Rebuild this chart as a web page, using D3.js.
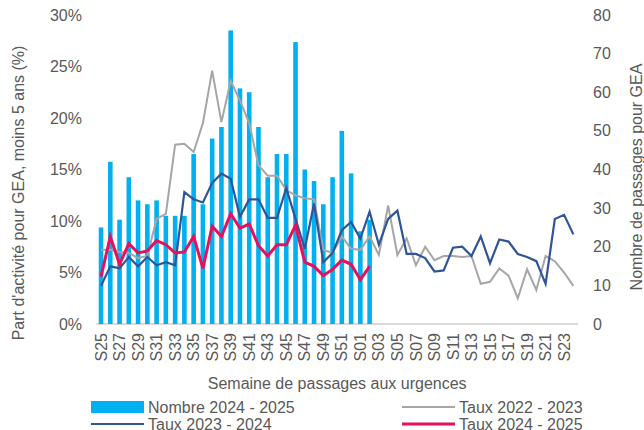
<!DOCTYPE html>
<html>
<head>
<meta charset="utf-8">
<script src="https://cdn.jsdelivr.net/npm/d3@7"></script>
<style>
    body { margin: 0; background: #fff; }
    svg text { font-family: "Liberation Sans", Arial, sans-serif; fill: #595959; }
</style>
</head>
<body>
<div id="chart"></div>
<script>
// weeks S25 .. S52, S01 .. S24
var weeks = ["S25", "S26", "S27", "S28", "S29", "S30", "S31", "S32", "S33", "S34", "S35", "S36", "S37", "S38",
    "S39", "S40", "S41", "S42", "S43", "S44", "S45", "S46", "S47", "S48", "S49", "S50", "S51", "S52",
    "S01", "S02", "S03", "S04", "S05", "S06", "S07", "S08", "S09", "S10", "S11", "S12", "S13", "S14",
    "S15", "S16", "S17", "S18", "S19", "S20", "S21", "S22", "S23", "S24"];

// bars, right axis
var nombre2425 = [25, 42, 27, 38, 32, 31, 32, 28, 28, 28, 44, 31, 48, 51, 76, 61, 60, 51, 38, 44,
    44, 73, 40, 37, 31, 38, 50, 39, 24, 27];

// lines, left axis (%)
var taux2223 = [7.2, 7.2, 7.0, 6.9, 6.4, 6.6, 10.2, 10.7, 17.4, 17.5, 16.7, 19.5, 24.6, 19.6, 23.6, 21.7,
    19.5, 15.4, 14.4, 14.4, 13.0, 12.5, 12.2, 12.1, 7.2, 6.9, 8.5, 7.3, 7.2, 8.5, 6.7, 11.5, 6.7, 8.3,
    5.7, 7.5, 6.2, 6.6, 6.6, 6.5, 6.6, 3.9, 4.1, 5.4, 4.7, 2.5, 5.3, 3.3, 6.6, 6.1, 5.0, 3.7];
var taux2324 = [3.7, 5.6, 5.4, 6.5, 5.6, 6.5, 5.7, 6.0, 5.7, 12.8, 12.1, 11.8, 13.7, 14.6, 14.1, 10.4,
    12.1, 12.1, 10.3, 10.3, 13.2, 10.2, 7.3, 11.7, 6.0, 6.9, 9.1, 9.9, 8.3, 10.9, 7.7, 10.2, 11.0, 6.8,
    6.8, 6.4, 5.1, 5.2, 7.4, 7.5, 6.6, 8.5, 5.9, 8.2, 8.0, 6.8, 6.5, 6.1, 3.9, 10.2, 10.6, 8.7];
var taux2425 = [4.6, 8.5, 5.8, 7.8, 6.9, 7.1, 8.1, 7.7, 6.9, 7.0, 8.5, 5.4, 9.5, 8.5, 10.7, 9.3, 9.7,
    7.6, 6.6, 7.7, 7.7, 9.6, 6.0, 5.6, 4.7, 5.3, 6.2, 5.8, 4.3, 5.6];

var leftTicks = [0, 5, 10, 15, 20, 25, 30];
var rightTicks = [0, 10, 20, 30, 40, 50, 60, 70, 80];

var legendItems = [
    { name: "Nombre 2024 - 2025", type: "bar", color: "#00B0F0" },
    { name: "Taux 2022 - 2023", type: "line", color: "#A6A6A6" },
    { name: "Taux 2023 - 2024", type: "line", color: "#2F5597" },
    { name: "Taux 2024 - 2025", type: "line", color: "#E8105A" }
];

function init() {
    var w = 644;
    var h = 430;
    var left = 96.4, right = 578, top = 15, bottom = 324;
    var fs = "16px";

    var svg = d3.select("#chart").append("svg")
        .attr("width", w)
        .attr("height", h);

    var xScale = d3.scaleBand()
        .domain(weeks)
        .range([left, right])
        .padding(0);

    var yLeft = d3.scaleLinear().domain([0, 30]).range([bottom, top]);
    var yRight = d3.scaleLinear().domain([0, 80]).range([bottom, top]);

    var cx = function (i) { return xScale(weeks[i]) + xScale.bandwidth() / 2; };

    // baseline
    svg.append("line")
        .attr("x1", left).attr("x2", right)
        .attr("y1", bottom).attr("y2", bottom)
        .attr("stroke", "#D9D9D9")
        .attr("stroke-width", 2);

    // left ticks
    svg.append("g").selectAll("text")
        .data(leftTicks)
        .enter()
        .append("text")
        .attr("x", 82)
        .attr("y", function (d) { return yLeft(d); })
        .attr("dy", "0.35em")
        .attr("text-anchor", "end")
        .style("font-size", fs)
        .text(function (d) { return d + "%"; });

    // right ticks
    svg.append("g").selectAll("text")
        .data(rightTicks)
        .enter()
        .append("text")
        .attr("x", 593)
        .attr("y", function (d) { return yRight(d); })
        .attr("dy", "0.35em")
        .attr("text-anchor", "start")
        .style("font-size", fs)
        .text(function (d) { return d; });

    // x labels, every other week
    svg.append("g").selectAll("text")
        .data(weeks.filter(function (d, i) { return i % 2 === 0; }))
        .enter()
        .append("text")
        .attr("transform", function (d) {
            return "translate(" + (xScale(d) + xScale.bandwidth() / 2) + "," + 333 + ") rotate(-90)";
        })
        .attr("dy", "0.35em")
        .attr("text-anchor", "end")
        .style("font-size", fs)
        .text(function (d) { return d; });

    // axis titles
    svg.append("text")
        .attr("x", (left + right) / 2)
        .attr("y", 389)
        .attr("text-anchor", "middle")
        .style("font-size", fs)
        .text("Semaine de passages aux urgences");

    svg.append("text")
        .attr("transform", "translate(24,193) rotate(-90)")
        .attr("text-anchor", "middle")
        .style("font-size", fs)
        .text("Part d'activité pour GEA, moins 5 ans (%)");

    svg.append("text")
        .attr("transform", "translate(642,177) rotate(-90)")
        .attr("text-anchor", "middle")
        .style("font-size", fs)
        .text("Nombre de passages pour GEA");

    // bars
    var barW = 4.6;
    svg.append("g").selectAll("rect")
        .data(nombre2425)
        .enter()
        .append("rect")
        .attr("x", function (d, i) { return cx(i) - barW / 2; })
        .attr("y", function (d) { return yRight(d); })
        .attr("width", barW)
        .attr("height", function (d) { return bottom - yRight(d); })
        .attr("fill", "#00B0F0");

    var line = d3.line()
        .x(function (d, i) { return cx(i); })
        .y(function (d) { return yLeft(d); });

    svg.append("path")
        .datum(taux2223)
        .attr("d", line)
        .attr("fill", "none")
        .attr("stroke", "#A6A6A6")
        .attr("stroke-width", 2);

    svg.append("path")
        .datum(taux2324)
        .attr("d", line)
        .attr("fill", "none")
        .attr("stroke", "#2F5597")
        .attr("stroke-width", 2.2);

    svg.append("path")
        .datum(taux2425)
        .attr("d", line)
        .attr("fill", "none")
        .attr("stroke", "#E8105A")
        .attr("stroke-width", 3);

    // legend
    var legendPos = [[91, 407], [402, 407], [91, 424], [402, 424]];
    var lg = svg.append("g").selectAll("g")
        .data(legendItems)
        .enter()
        .append("g")
        .attr("transform", function (d, i) {
            return "translate(" + legendPos[i][0] + "," + legendPos[i][1] + ")";
        });

    lg.filter(function (d) { return d.type === "bar"; })
        .append("rect")
        .attr("x", 0).attr("y", -6)
        .attr("width", 53).attr("height", 12)
        .attr("fill", function (d) { return d.color; });

    lg.filter(function (d) { return d.type === "line"; })
        .append("line")
        .attr("x1", 0).attr("x2", 53)
        .attr("y1", 0).attr("y2", 0)
        .attr("stroke", function (d) { return d.color; })
        .attr("stroke-width", function (d) { return d.name === "Taux 2024 - 2025" ? 3 : 2; });

    lg.append("text")
        .attr("x", 57)
        .attr("y", 0)
        .attr("dy", "0.35em")
        .style("font-size", fs)
        .text(function (d) { return d.name; });
}
window.onload = init;
</script>
</body>
</html>
